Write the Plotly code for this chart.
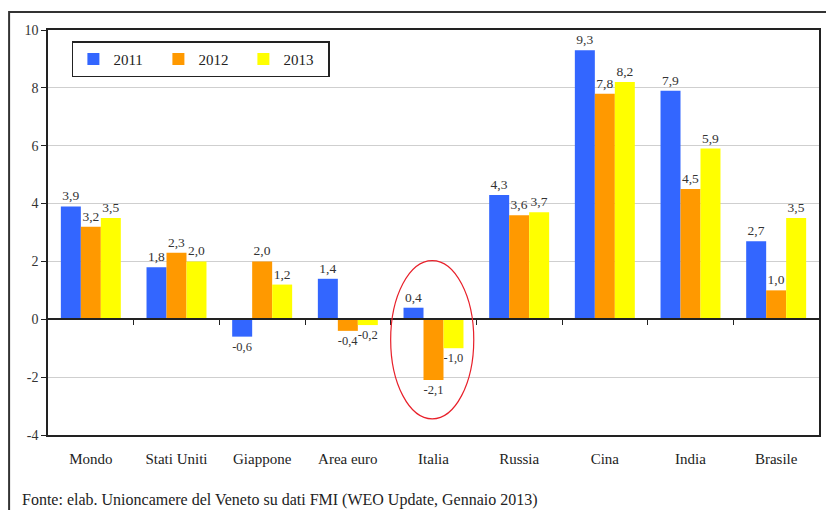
import plotly.graph_objects as go

categories = ["Mondo", "Stati Uniti", "Giappone", "Area euro", "Italia",
              "Russia", "Cina", "India", "Brasile"]
v2011 = [3.9, 1.8, -0.6, 1.4, 0.4, 4.3, 9.3, 7.9, 2.7]
v2012 = [3.2, 2.3, 2.0, -0.4, -2.1, 3.6, 7.8, 4.5, 1.0]
v2013 = [3.5, 2.0, 1.2, -0.2, -1.0, 3.7, 8.2, 5.9, 3.5]
years = ["2011", "2012", "2013"]
colors = ["#3366FF", "#FF9900", "#FFFF00"]
ytick_vals = [-4, -2, 0, 2, 4, 6, 8, 10]
ytick_text = ["-4", "-2", "0", "2", "4", "6", "8", "10"]

FONT = "Liberation Serif"

def fmt(v):
    return f"{v:.1f}".replace(".", ",")

fig = go.Figure()
for name, vals, col in zip(years, [v2011, v2012, v2013], colors):
    fig.add_trace(go.Bar(
        x=list(range(len(categories))), y=vals, name=name,
        marker=dict(color=col, line=dict(width=0)),
        text=[fmt(v) for v in vals], textposition="outside",
        textfont=dict(family=FONT, size=13.5, color="#333"),
        cliponaxis=False,
    ))

# invisible trace on xaxis2 to carry the zero-line axis with ticks
fig.add_trace(go.Scatter(x=[0], y=[0], xaxis="x2", mode="markers",
                         marker=dict(opacity=0), showlegend=False, hoverinfo="skip"))

zero_pos = (0 - (-4)) / 14

fig.update_layout(
    width=826, height=510,
    margin=dict(l=48, r=5, t=30, b=75),
    paper_bgcolor="white", plot_bgcolor="white",
    barmode="group", bargap=0.3, bargroupgap=0,
    font=dict(family=FONT, size=13, color="#222"),
    xaxis=dict(range=[-0.5, 8.5], tickvals=list(range(len(categories))),
               ticktext=categories, showgrid=False, zeroline=False,
               showline=True, linecolor="#222", linewidth=1.5, mirror=True,
               ticks="", ticklabelstandoff=9,
               tickfont=dict(family=FONT, size=15, color="#222")),
    xaxis2=dict(range=[-0.5, 8.5], overlaying="x", anchor="free", position=zero_pos,
                tickvals=[i + 0.5 for i in range(len(categories) - 1)],
                showticklabels=False, ticks="outside", ticklen=5, tickcolor="#222",
                showline=True, linecolor="#222", linewidth=1.5, showgrid=False,
                zeroline=False),
    yaxis=dict(range=[-4, 10], tickvals=ytick_vals, ticktext=ytick_text,
               showgrid=True, gridcolor="#cfcfcf",
               gridwidth=1, zeroline=False, showline=True, linecolor="#222",
               linewidth=1.5, mirror=True, ticks="outside", ticklen=5,
               tickcolor="#222",
               tickfont=dict(family=FONT, size=14, color="#333")),
    legend=dict(orientation="h", x=0.031, y=0.972, xanchor="left", yanchor="top",
                bgcolor="white", bordercolor="#222", borderwidth=1.5,
                font=dict(family=FONT, size=15, color="#222"),
                itemwidth=30, entrywidth=40, tracegroupgap=0,
                itemsizing="constant"),
    showlegend=True,
)

# highlight ellipse around Italia
fig.add_shape(type="circle", xref="x", yref="y", x0=3.5, x1=4.47, y0=-3.44, y1=2.03,
              line=dict(color="#E8202A", width=1.2))

# outer frame
fig.add_shape(type="rect", xref="paper", yref="paper",
              x0=(9 - 48) / 773, x1=1.02, y0=-0.3, y1=(435 - 12) / 405,
              line=dict(color="#333", width=2))

fig.add_annotation(text="Fonte: elab. Unioncamere del Veneto su dati FMI (WEO Update, Gennaio 2013)",
                   xref="paper", yref="paper", x=(20 - 48) / 773, y=-(500 - 435) / 405,
                   xanchor="left", yanchor="middle", showarrow=False,
                   font=dict(family=FONT, size=16, color="#222"))

fig.write_html("out.html", config={"displayModeBar": False},
               post_script="document.body.style.margin='0';")
